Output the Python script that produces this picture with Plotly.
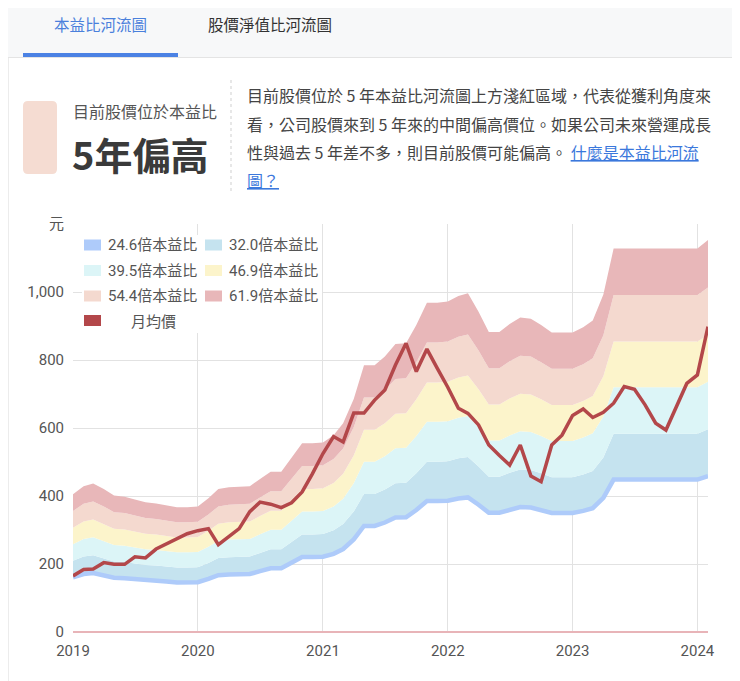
import pandas as pd
import plotly.graph_objects as go

# page size, page offset of the figure (body margin) and plot area in page pixels
W, H = 740, 681
OFF = 8
PL, PR, PT, PB = 73, 708, 224, 632

months = pd.date_range("2019-01-01", "2024-02-01", freq="MS")

# trailing EPS behind the river bands
eps = [6.54, 6.93, 7.06, 6.79, 6.48, 6.43, 6.30, 6.16, 6.11, 6.03, 5.93, 5.93,
       5.96, 6.35, 6.79, 6.88, 6.90, 6.93, 7.27, 7.61, 7.61, 8.26, 8.97, 8.97,
       9.01, 9.35, 9.92, 11.07, 12.68, 12.68, 13.09, 13.68, 13.72, 14.59, 15.65, 15.65,
       15.70, 15.96, 16.09, 15.22, 14.26, 14.26, 14.64, 14.94, 14.89, 14.59, 14.23, 14.23,
       14.23, 14.48, 14.80, 16.04, 18.22, 18.22, 18.22, 18.22, 18.22, 18.22, 18.22, 18.22,
       18.22, 18.63]

# monthly average price
price = [165, 184, 185, 204, 199, 199, 221, 218, 244, 259, 273, 289,
         298, 304, 257, 280, 304, 354, 382, 376, 366, 380, 412, 465,
         525, 575, 559, 644, 644, 682, 712, 785, 849, 766, 832, 776,
         720, 658, 643, 609, 550, 519, 491, 550, 459, 442, 550, 579,
         637, 656, 631, 646, 673, 722, 714, 668, 614, 594, 663, 731,
         756, 898]

pe_levels = [24.6, 32.0, 39.5, 46.9, 54.4, 61.9]
band_names = ["24.6倍本益比", "32.0倍本益比", "39.5倍本益比",
              "46.9倍本益比", "54.4倍本益比", "61.9倍本益比"]
band_colors = ["#aecbfa", "#c5e3ef", "#dcf5f7", "#fcf4cb", "#f4d9cf", "#e8b7b9"]
price_name = "月均價"
price_color = "#b3474a"

y_ticks = [0, 200, 400, 600, 800, 1000, 1200]
y_ticktext = ["0", "200", "400", "600", "800", "1,000", "元"]

FONT = "Roboto, 'Noto Sans CJK TC', sans-serif"
CJK = "'Noto Sans CJK TC', Roboto, sans-serif"


def fx(px):
    return (px - PL) / (PR - PL)


def fy(py):
    return (PB - py) / (PB - PT)


def rect(x0, y0, x1, y1, color, layer="below"):
    return dict(type="rect", xref="paper", yref="paper",
                x0=fx(x0), x1=fx(x1), y0=fy(y1), y1=fy(y0),
                fillcolor=color, line=dict(width=0), layer=layer)


def vline(x, y0, y1, color, dash="solid"):
    return dict(type="line", xref="paper", yref="paper",
                x0=fx(x), x1=fx(x), y0=fy(y0), y1=fy(y1),
                line=dict(color=color, width=1, dash=dash), layer="below")


def text(x, y, s, size=16, color="#444", anchor="left", family=CJK):
    return dict(xref="paper", yref="paper", x=fx(x), y=fy(y), text=s,
                showarrow=False, xanchor=anchor, yanchor="middle",
                font=dict(size=size, color=color, family=family))


fig = go.Figure()

bands = [[e * pe for e in eps] for pe in pe_levels]

# invisible base so the first fill has something to go to
fig.add_trace(go.Scatter(x=months, y=bands[0], mode="lines",
                         line=dict(width=0, color=band_colors[0]),
                         showlegend=False, hoverinfo="skip"))
for i in range(1, len(pe_levels)):
    fig.add_trace(go.Scatter(x=months, y=bands[i], mode="lines", name=band_names[i],
                             line=dict(width=0, color=band_colors[i]),
                             fill="tonexty", fillcolor=band_colors[i],
                             showlegend=False))
fig.add_trace(go.Scatter(x=months, y=bands[0], mode="lines", name=band_names[0],
                         line=dict(width=4.5, color=band_colors[0]),
                         showlegend=False))
fig.add_trace(go.Scatter(x=months, y=price, mode="lines", name=price_name,
                         line=dict(width=3.5, color=price_color),
                         showlegend=False))

shapes = []
annotations = []

# tab bar
shapes.append(rect(0, 0, W, 57, "#f7f8f9"))
shapes.append(dict(type="line", xref="paper", yref="paper",
                   x0=fx(0), x1=fx(W), y0=fy(57.5), y1=fy(57.5),
                   line=dict(color="#e4e4e4", width=1), layer="below"))
shapes.append(rect(23, 53, 178, 57, "#4b82e4"))
annotations.append(text(100, 24, "本益比河流圖", 15.5, "#4a80dc", "center"))
annotations.append(text(270, 24, "股價淨值比河流圖", 15.5, "#333", "center"))

# card left border
shapes.append(vline(8.5, 58, H, "#ececec"))

# summary box with rounded corners
bx0, by0, bx1, by1, r = 23, 101, 57, 174, 5
px0, px1, py0, py1 = fx(bx0), fx(bx1), fy(by1), fy(by0)
rx, ry = r / (PR - PL), r / (PB - PT)
path = (f"M{px0 + rx},{py0} L{px1 - rx},{py0} Q{px1},{py0} {px1},{py0 + ry} "
        f"L{px1},{py1 - ry} Q{px1},{py1} {px1 - rx},{py1} L{px0 + rx},{py1} "
        f"Q{px0},{py1} {px0},{py1 - ry} L{px0},{py0 + ry} Q{px0},{py0} {px0 + rx},{py0} Z")
shapes.append(dict(type="path", xref="paper", yref="paper", path=path,
                   fillcolor="#f5dcd2", line=dict(width=0), layer="below"))
annotations.append(text(71, 111, "目前股價位於本益比", 16, "#555"))
annotations.append(text(70, 154, "<b>5年偏高</b>", 38, "#3a3a3a"))

shapes.append(vline(231, 80, 192, "#cfcfcf", "dot"))

link = "<span style='color:#3b78dc'><u>{}</u></span>"
para = ["目前股價位於 5 年本益比河流圖上方淺紅區域，代表從獲利角度來",
        "看，公司股價來到 5 年來的中間偏高價位。如果公司未來營運成長",
        "性與過去 5 年差不多，則目前股價可能偏高。 " + link.format("什麼是本益比河流"),
        link.format("圖？")]
for k, line in enumerate(para):
    annotations.append(text(245, 95 + k * 28.5, line, 16, "#444"))

# legend box drawn over the plot
shapes.append(rect(82, 235, 322, 333, "white", layer="above"))
rows = [245, 270.5, 296, 320.5]
for i, name in enumerate(band_names):
    cx = 84 if i % 2 == 0 else 205
    cy = rows[i // 2]
    shapes.append(rect(cx, cy - 5.5, cx + 17, cy + 5.5, band_colors[i], layer="above"))
    annotations.append(text(cx + 22, cy, name, 15, "#555", family=FONT))
shapes.append(rect(84, rows[3] - 5.5, 101, rows[3] + 5.5, price_color, layer="above"))
annotations.append(text(129, rows[3], price_name, 15, "#555"))

fig.update_layout(
    width=W - OFF, height=H - OFF,
    margin=dict(l=PL - OFF, r=W - PR, t=PT - OFF, b=H - PB),
    paper_bgcolor="white", plot_bgcolor="white",
    font=dict(family=FONT, size=15, color="#555"),
    shapes=shapes, annotations=annotations,
    showlegend=False,
)
fig.update_xaxes(range=[months[0], months[-1]], dtick="M12", tickformat="%Y",
                 showgrid=True, gridcolor="#e2e2e2", gridwidth=1,
                 showline=False, zeroline=False, ticks="",
                 ticklabelstandoff=8, tickfont=dict(size=15, color="#555"))
fig.update_yaxes(range=[0, 1200], tickvals=y_ticks, ticktext=y_ticktext,
                 showgrid=True, gridcolor="#e2e2e2", gridwidth=1,
                 zeroline=True, zerolinecolor="#e8b4b8", zerolinewidth=1.5,
                 showline=False, ticks="", ticklabelstandoff=8,
                 tickfont=dict(size=15, color="#555"))

fig.write_html("out.html")
